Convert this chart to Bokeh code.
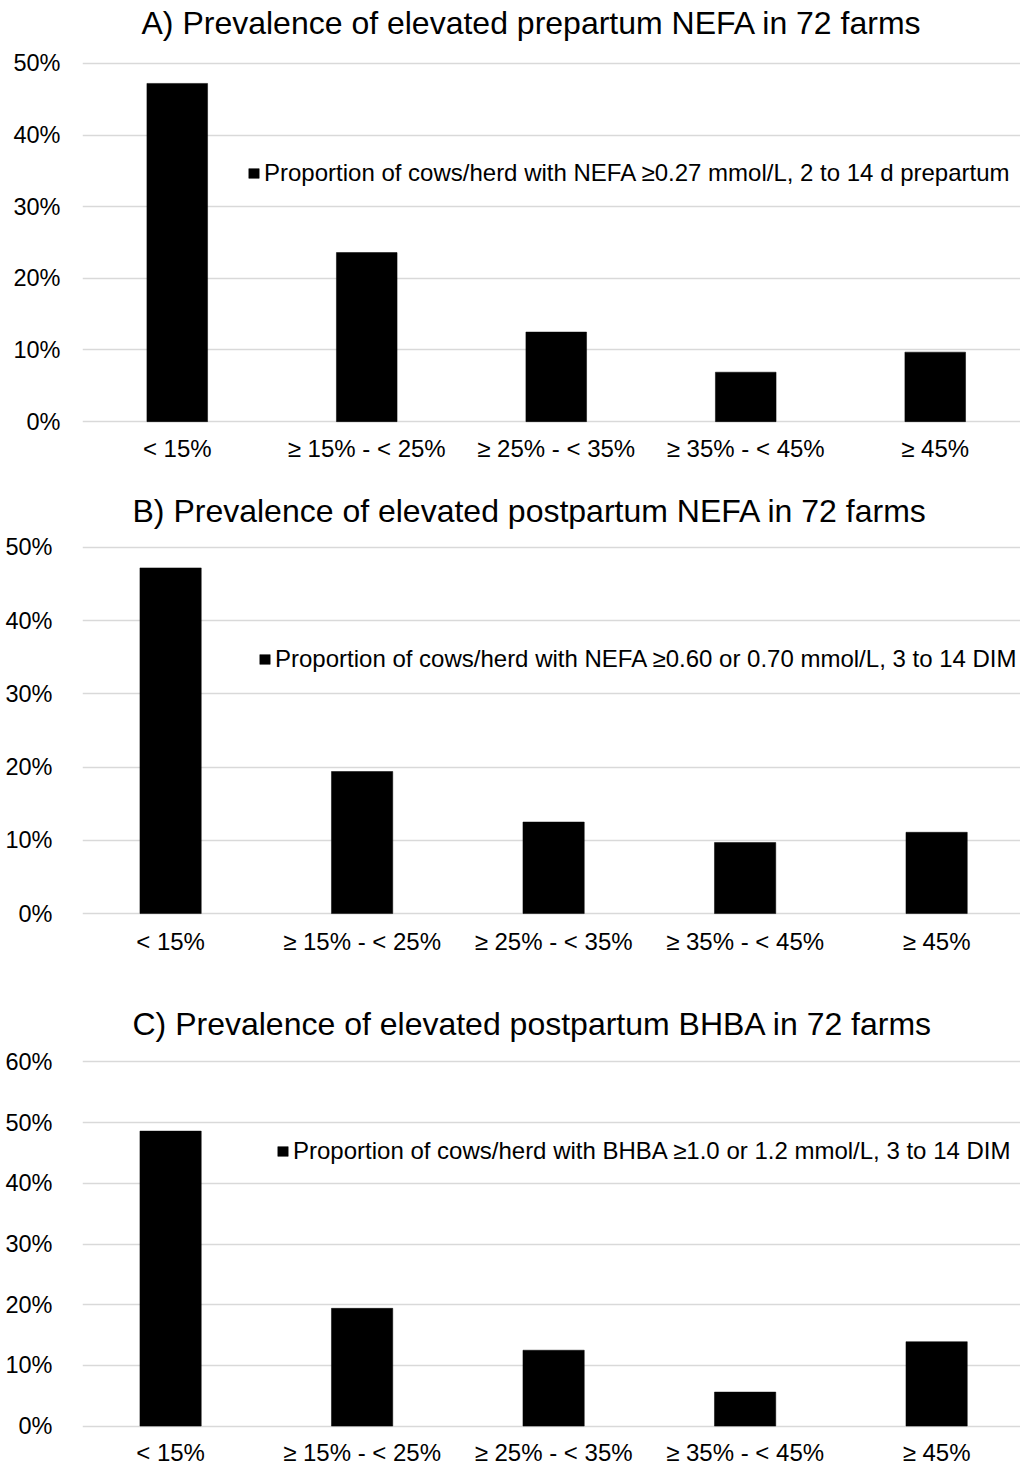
from bokeh.plotting import figure
from bokeh.layouts import column
from bokeh.models import (Range1d, FixedTicker, PrintfTickFormatter, Legend,
                          LegendItem, ColumnDataSource, Title)
from bokeh.embed import file_html
from bokeh.resources import INLINE

# ---------------- data ----------------
categories = ["< 15%", "\u2265 15% - < 25%", "\u2265 25% - < 35%",
              "\u2265 35% - < 45%", "\u2265 45%"]
prepartum_nefa = [47.2, 23.6, 12.5, 6.9, 9.7]
postpartum_nefa = [47.2, 19.4, 12.5, 9.7, 11.1]
postpartum_bhba = [48.6, 19.4, 12.5, 5.6, 13.9]

titles = ["A) Prevalence of elevated prepartum NEFA in 72 farms",
          "B) Prevalence of elevated postpartum NEFA in 72 farms",
          "C) Prevalence of elevated postpartum BHBA in 72 farms"]
legend_labels = [
    "Proportion of cows/herd with NEFA \u22650.27 mmol/L, 2 to 14 d prepartum",
    "Proportion of cows/herd with NEFA \u22650.60 or 0.70 mmol/L, 3 to 14 DIM",
    "Proportion of cows/herd with BHBA \u22651.0 or 1.2 mmol/L, 3 to 14 DIM",
]
yticks_ab = [0, 10, 20, 30, 40, 50]
yticks_c = [0, 10, 20, 30, 40, 50, 60]

FONT = "Liberation Sans"
W = 1020


def make_panel(title, values, label, yticks, height, b_top, b_bottom,
               x_start, x_end, leg_loc, spacer_size, y_standoff, x_standoff,
               title_offset):
    xs = list(range(len(categories)))
    src = ColumnDataSource(dict(x=xs, top=values))
    p = figure(width=W, height=height, output_backend="svg",
               toolbar_location=None, tools="",
               x_range=Range1d(x_start, x_end),
               y_range=Range1d(-0.4, yticks[-1] + 0.4),
               min_border_left=82, min_border_right=0,
               min_border_top=b_top, min_border_bottom=b_bottom)
    p.outline_line_color = None
    p.background_fill_color = "white"
    p.border_fill_color = "white"

    # spacer between title and frame (closest to the frame)
    p.add_layout(Title(text=" ", text_font_size=spacer_size, standoff=0,
                       text_font=FONT), "above")

    p.title.text = title
    p.title.text_font = FONT
    p.title.text_font_size = "32px"
    p.title.text_font_style = "normal"
    p.title.text_color = "black"
    p.title.align = "left"
    p.title.offset = title_offset
    p.title.standoff = 4

    r = p.vbar(x="x", top="top", bottom=0, width=0.32, source=src,
               fill_color="black", line_color="black", line_width=0.5)

    p.xgrid.visible = False
    p.ygrid.ticker = FixedTicker(ticks=yticks)
    p.ygrid.grid_line_color = "#d9d9d9"
    p.ygrid.grid_line_width = 1.5

    p.xaxis.ticker = FixedTicker(ticks=xs)
    p.xaxis.major_label_overrides = {i: c for i, c in enumerate(categories)}
    p.yaxis.ticker = FixedTicker(ticks=yticks)
    p.yaxis.formatter = PrintfTickFormatter(format="%d%%")
    for ax in (p.xaxis, p.yaxis):
        ax.axis_line_color = None
        ax.major_tick_line_color = None
        ax.minor_tick_line_color = None
        ax.major_tick_out = 0
        ax.major_tick_in = 0
        ax.major_label_text_font = FONT
        ax.major_label_text_color = "black"
    p.xaxis.major_label_text_font_size = "24px"
    p.yaxis.major_label_text_font_size = "23.5px"
    p.xaxis.major_label_standoff = x_standoff
    p.yaxis.major_label_standoff = y_standoff

    leg = Legend(items=[LegendItem(label=label, renderers=[r])],
                 location=leg_loc, orientation="vertical")
    leg.border_line_color = None
    leg.background_fill_alpha = 0
    leg.padding = 0
    leg.margin = 0
    leg.spacing = 0
    leg.glyph_width = 13
    leg.glyph_height = 12
    leg.label_standoff = 4
    leg.label_text_font = FONT
    leg.label_text_font_size = "24px"
    leg.label_text_color = "black"
    p.add_layout(leg, "center")
    return p


pa = make_panel(titles[0], prepartum_nefa, legend_labels[0], yticks_ab,
                484, 60, 60, -0.5, 4.45, (165, 237), "14.4px", 22, 10, 59)
pb = make_panel(titles[1], postpartum_nefa, legend_labels[1], yticks_ab,
                514, 60, 82, -0.46, 4.438, (176, 243), "10.7px", 30, 11, 50)
pc = make_panel(titles[2], postpartum_bhba, legend_labels[2], yticks_c,
                470, 61, 38, -0.46, 4.438, (194, 263), "11.9px", 30, 10, 50)

layout = column(pa, pb, pc, spacing=0)
open("out.html", "w").write(file_html(layout, INLINE))
